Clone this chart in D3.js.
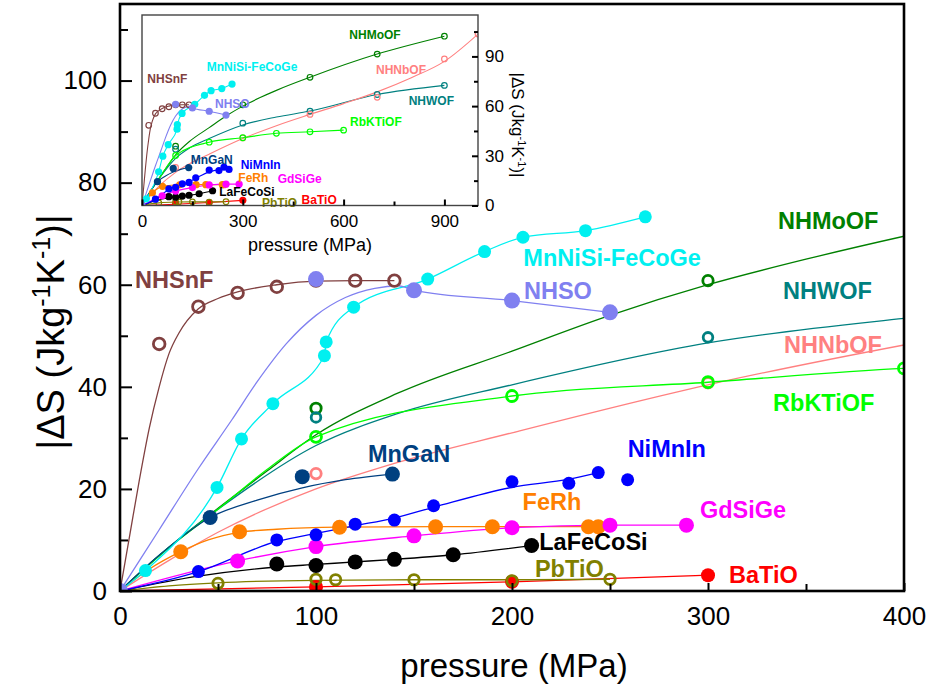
<!DOCTYPE html>
<html>
<head>
<meta charset="utf-8">
<script src="https://cdn.jsdelivr.net/npm/d3@7"></script>
<style>
body { margin: 0; background: #fff; }
text { font-family: Arial, "Liberation Sans", sans-serif; }
</style>
</head>
<body>
<div id="chart"></div>
<script>
// ---- data: [pressure MPa, |dS| J/kg/K] ----
const nhsnfPts = [[20,48.4],[40,55.7],[60,58.4],[80,59.6],[100,60.8],[120,60.8],[140,60.8]];
const nhsnfLine = [[0,0],[5,11],[10,22],[15,32],[20,40],[25,46.5],[30,50.5],[40,55.3],[50,57.3],[60,58.6],[80,60],[100,60.7],[120,60.8],[140,60.8]];

const nhsoPts = [[0,0],[100,61.1],[150,58.9],[200,56.9],[250,54.6]];
const nhsoLine = [[0,0],[20,12],[40,24],[57,33.5],[70,41],[85,48.5],[100,54],[115,57.5],[130,59.3],[142,59.8],[150,58.9],[200,56.9],[250,54.6]];

const mnnisiPts = [[13,4.0],[49.5,20.3],[62,29.8],[78,36.7],[104.3,46.1],[105.2,48.8],[119.2,55.6],[157,61.1],[186,66.5],[205.6,69.3],[237.5,70.6],[268,73.3]];
const mnnisiLine = [[0,0]].concat(mnnisiPts);

const nhmoofPts = [[100,35.8],[300,60.8],[500,77.4],[700,91.4],[900,102.2]];
const nhmoofLine = [[0,0],[10,3.5],[25,8.5],[46,15],[75,23.5],[100,30.6],[142,38.8],[200,47],[250,54],[300,60],[350,65],[400,69.5],[500,77.4],[700,91.4],[900,102.2]];

const nhwofPts = [[100,34],[300,49.7],[500,57],[700,67],[900,72.5]];
const nhwofLine = [[0,0],[10,3.6],[25,8.6],[50,16],[100,28.5],[142,34.8],[200,40.4],[300,48.6],[400,53.4],[500,57],[700,67],[900,72.5]];

const nhnbofPts = [[100,23],[300,40.8],[500,55],[700,65.3],[900,88.5],[1000,103.5]];
const nhnbofLine = [[0,0],[25,6],[50,11.5],[100,20],[140,25],[200,31],[300,40.4],[400,48.2],[500,55],[600,61.5],[700,68.6],[800,77],[900,87],[1000,103.5]];

const rbktiofPts = [[100,30.2],[200,38.2],[300,40.9],[400,43.6],[500,44.5],[600,45.5]];
const rbktiofLine = [[0,0],[25,8.5],[50,16],[75,23.8]].concat(rbktiofPts);

const manganPts = [[46,14.4],[93,22.4],[139,22.9]];
const manganLine = [[0,0],[20,7],[46,14.4],[70,17.8],[93,20.2],[115,21.8],[139,22.9]];

const nimninPts = [[40,3.8],[80,10],[100,11],[120,13.1],[140,13.9],[160,16.7],[200,21.4],[229,21.1],[244,23.2],[259,21.8]];
const nimninLine = [[0,0],[40,3.8],[80,9.7],[100,11.3],[120,12.8],[140,14.3],[160,16.4],[200,20.3],[229,21.9],[244,23.2]];

const ferhPts = [[31,7.7],[61,11.6],[112,12.5],[161,12.6],[190,12.6],[239,12.6],[244,12.6]];
const ferhLine = [[0,0],[15,4.3],[31,7.7],[45,10],[61,11.5],[80,12.1],[112,12.5],[161,12.6],[245,12.6]];

const gdsigePts = [[60,5.9],[100,8.7],[150,10.8],[200,12.4],[250,12.9],[289,12.9]];
const gdsigeLine = [[0,0]].concat(gdsigePts);

const lafecosiPts = [[80,5.3],[100,5.0],[120,5.7],[140,6.2],[170,7.1],[210,8.9]];
const lafecosiLine = [[0,0],[40,2.9],[80,4.7],[100,5.2],[120,5.7],[140,6.2],[170,7.1],[210,8.9]];

const pbtioPts = [[50,1.5],[100,2.3],[110,2.2],[150,2.2],[200,2.0],[250,2.3]];
const pbtioLine = [[0,0],[25,1],[50,1.6],[100,2.1],[150,2.2],[200,2.2],[250,2.3]];

const batioPts = [[100,0.8],[200,1.8],[300,3.1]];
const batioLine = [[0,0]].concat(batioPts);

// label anchors in data units [text, pressure, dS]
const mainLabels = [["NHSnF",7.7,61.1],["MnNiSi-FeCoGe",205.8,65.3],["NHSO",206.1,58.8],["NHMoOF",335.7,72.5],
  ["NHWOF",338.3,58.8],["NHNbOF",338.8,48.2],["RbKTiOF",333.2,37],["MnGaN",126.5,27],["NiMnIn",259,28],
  ["FeRh",205.4,17.5],["GdSiGe",295.9,16],["LaFeCoSi",213.9,9.7],["PbTiO",211.7,4.45],["BaTiO",310.7,3.3]];
const insetLabels = [["NHMoOF",617,103.3],["MnNiSi-FeCoGe",192.6,83.8],["NHSnF",15.8,76.8],["NHNbOF",696.4,82.2],
  ["NHSO",217.3,61.3],["NHWOF",793.8,63.1],["RbKTiOF",619,50.6],["MnGaN",145,27.5],["NiMnIn",293.8,24.6],
  ["FeRh",286.6,16.8],["GdSiGe",403.9,16],["LaFeCoSi",230,8.2],["PbTiO",357,1.6],["BaTiO",475,3.3]];

const xTicks = [0, 100, 200, 300, 400];
const yTicks = [0, 20, 40, 60, 80, 100];
const xTicksInset = [0, 300, 600, 900];
const yTicksInset = [0, 30, 60, 90];

// draw order = stacking order
const series = [
  {name:"NHSnF", color:"#804040", pts:nhsnfPts, line:nhsnfLine, open:true, r:5.8},
  {name:"NHMoOF", color:"#008000", pts:nhmoofPts, line:nhmoofLine, open:true, r:5.2},
  {name:"NHWOF", color:"#008080", pts:nhwofPts, line:nhwofLine, open:true, r:4.8},
  {name:"NHNbOF", color:"#ff8080", pts:nhnbofPts, line:nhnbofLine, open:true, r:5.2},
  {name:"RbKTiOF", color:"#00ff00", pts:rbktiofPts, line:rbktiofLine, open:true, r:5.5},
  {name:"BaTiO", color:"#ff0000", pts:batioPts, line:batioLine, open:false, r:7},
  {name:"PbTiO", color:"#808000", pts:pbtioPts, line:pbtioLine, open:true, r:5.2},
  {name:"LaFeCoSi", color:"#000000", pts:lafecosiPts, line:lafecosiLine, open:false, r:7.5},
  {name:"FeRh", color:"#ff8000", pts:ferhPts, line:ferhLine, open:false, r:7.5},
  {name:"GdSiGe", color:"#ff00ff", pts:gdsigePts, line:gdsigeLine, open:false, r:7.5},
  {name:"NiMnIn", color:"#0000ff", pts:nimninPts, line:nimninLine, open:false, r:6.5},
  {name:"MnGaN", color:"#004080", pts:manganPts, line:manganLine, open:false, r:7.5},
  {name:"MnNiSi-FeCoGe", color:"#00f0f0", pts:mnnisiPts, line:mnnisiLine, open:false, r:6.5},
  {name:"NHSO", color:"#8080f0", pts:nhsoPts, line:nhsoLine, open:false, r:8}
];
const colorOf = {};
series.forEach(s => colorOf[s.name] = s.color);

const W = 930, H = 691;
const svg = d3.select("#chart").append("svg").attr("width", W).attr("height", H);

// main scales
const x = d3.scaleLinear().domain([0, 400]).range([120, 904]);
const y = d3.scaleLinear().domain([0, 115]).range([591, 4]);
// inset scales
const xi = d3.scaleLinear().domain([0, 1000]).range([142, 478]);
const yi = d3.scaleLinear().domain([0, 115]).range([205.5, 15]);

const defs = svg.append("defs");
defs.append("clipPath").attr("id", "clipMain").append("rect")
  .attr("x", 120).attr("y", 4).attr("width", 784).attr("height", 587);
defs.append("clipPath").attr("id", "clipInset").append("rect")
  .attr("x", 142).attr("y", 15).attr("width", 336).attr("height", 190.5);

function drawPanel(clip, xs, ys, small) {
  const g = svg.append("g").attr("clip-path", "url(#" + clip + ")");
  const line = d3.line().x(d => xs(d[0])).y(d => ys(d[1])).curve(d3.curveMonotoneX);
  series.forEach(s => {
    g.append("path").datum(s.line).attr("d", line)
      .attr("fill", "none").attr("stroke", s.color).attr("stroke-width", small ? 1.1 : 1.3);
  });
  series.forEach(s => {
    g.selectAll(null).data(s.pts).enter().append("circle")
      .attr("cx", d => xs(d[0])).attr("cy", d => ys(d[1]))
      .attr("r", small ? (s.open ? 2.8 : 3.6) : s.r)
      .attr("fill", s.open ? "none" : s.color)
      .attr("stroke", s.open ? s.color : "none")
      .attr("stroke-width", s.open ? (small ? 1.2 : 2.8) : 0);
  });
  return g;
}

// ---- main panel ----
drawPanel("clipMain", x, y, false);

svg.append("g").selectAll("text").data(mainLabels).enter().append("text")
  .attr("x", d => x(d[1])).attr("y", d => y(d[2]))
  .attr("dy", "0.36em")
  .attr("fill", d => colorOf[d[0]])
  .style("font-size", "23.5px").style("font-weight", "bold")
  .text(d => d[0]);

// ---- inset ----
svg.append("rect").attr("x", 142).attr("y", 15).attr("width", 336).attr("height", 190.5).attr("fill", "#fff");
drawPanel("clipInset", xi, yi, true);

svg.append("g").selectAll("text").data(insetLabels).enter().append("text")
  .attr("x", d => xi(d[1])).attr("y", d => yi(d[2]))
  .attr("dy", "0.36em")
  .attr("fill", d => colorOf[d[0]])
  .style("font-size", "12px").style("font-weight", "bold")
  .text(d => d[0]);

// inset frame + axes
svg.append("rect").attr("x", 142).attr("y", 15).attr("width", 336).attr("height", 190.5)
  .attr("fill", "none").attr("stroke", "#444").attr("stroke-width", 1.4);

const xiAxis = svg.append("g").attr("transform", "translate(0,205.5)")
  .call(d3.axisBottom(xi).tickValues(xTicksInset).tickSize(-6).tickPadding(9).tickFormat(d3.format("d")));
svg.append("g").attr("transform", "translate(0,205.5)")
  .call(d3.axisBottom(xi).tickValues([150, 450, 750]).tickSize(-4).tickFormat(""));
const yiAxis = svg.append("g").attr("transform", "translate(478,0)")
  .call(d3.axisRight(yi).tickValues(yTicksInset).tickSize(-6).tickPadding(7).tickFormat(d3.format("d")));
svg.append("g").attr("transform", "translate(478,0)")
  .call(d3.axisRight(yi).tickValues([15, 45, 75, 105]).tickSize(-4).tickFormat(""));

[xiAxis, yiAxis].forEach(a => a.selectAll("text").style("font-size", "17px").attr("fill", "#000"));

svg.append("text").attr("x", 310).attr("y", 251).attr("text-anchor", "middle")
  .style("font-size", "18px").text("pressure (MPa)");

const insetYLabel = svg.append("text").attr("transform", "translate(512,125) rotate(90)")
  .attr("text-anchor", "middle").style("font-size", "17px");
insetYLabel.append("tspan").text("|\u0394S (Jkg");
insetYLabel.append("tspan").attr("baseline-shift", "super").style("font-size", "11px").text("-1");
insetYLabel.append("tspan").text("K");
insetYLabel.append("tspan").attr("baseline-shift", "super").style("font-size", "11px").text("-1");
insetYLabel.append("tspan").text(")|");

// ---- main axes ----
const xAxis = svg.append("g").attr("transform", "translate(0,591)")
  .call(d3.axisBottom(x).tickValues(xTicks).tickSize(-8).tickPadding(16).tickFormat(d3.format("d")));
svg.append("g").attr("transform", "translate(0,591)")
  .call(d3.axisBottom(x).tickValues([50, 150, 250, 350]).tickSize(-7).tickFormat(""));
const yAxis = svg.append("g").attr("transform", "translate(120,0)")
  .call(d3.axisLeft(y).tickValues(yTicks).tickSize(-12).tickPadding(13).tickFormat(d3.format("d")));
svg.append("g").attr("transform", "translate(120,0)")
  .call(d3.axisLeft(y).tickValues([10, 30, 50, 70, 90, 110]).tickSize(-8).tickFormat(""));

[xAxis, yAxis].forEach(a => a.selectAll("text").style("font-size", "26px").attr("fill", "#000"));
svg.selectAll(".tick line").attr("stroke", "#000").attr("stroke-width", 2);
svg.selectAll(".domain").remove();

// main frame
svg.append("rect").attr("x", 120).attr("y", 4).attr("width", 784).attr("height", 587)
  .attr("fill", "none").attr("stroke", "#000").attr("stroke-width", 2.6);

svg.append("text").attr("x", 514).attr("y", 677).attr("text-anchor", "middle")
  .style("font-size", "33px").text("pressure (MPa)");

const yLabel = svg.append("text").attr("transform", "translate(64,332) rotate(-90)")
  .attr("text-anchor", "middle").style("font-size", "38px");
yLabel.append("tspan").text("|\u0394S (Jkg");
yLabel.append("tspan").attr("baseline-shift", "super").style("font-size", "25px").text("-1");
yLabel.append("tspan").text("K");
yLabel.append("tspan").attr("baseline-shift", "super").style("font-size", "25px").text("-1");
yLabel.append("tspan").text(")|");
</script>
</body>
</html>
